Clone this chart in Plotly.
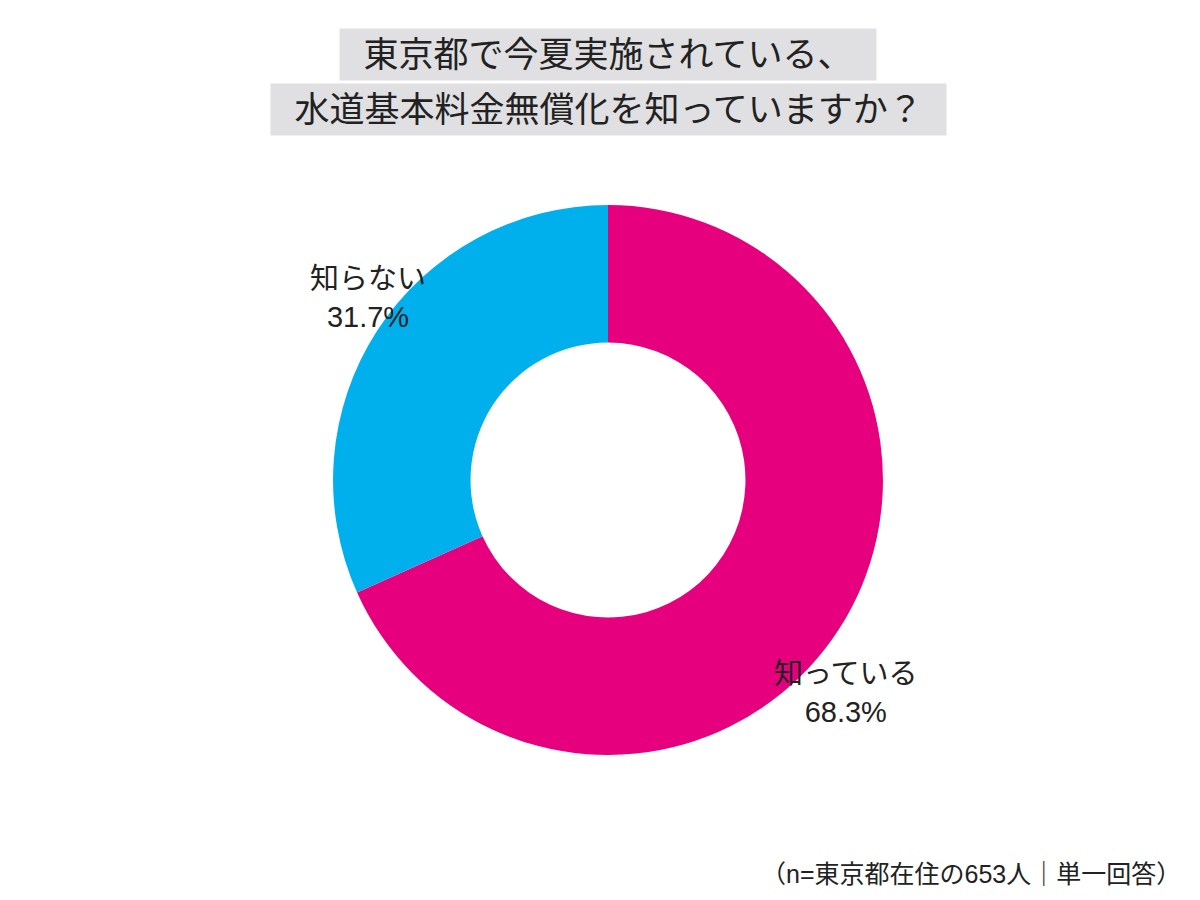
import plotly.graph_objects as go

labels = ["知っている", "知らない"]
values = [68.3, 31.7]
colors = ["#E6007E", "#00B0EC"]
title_lines = ["東京都で今夏実施されている、", "水道基本料金無償化を知っていますか？"]
note = "（n=東京都在住の653人｜単一回答）"

fig = go.Figure(go.Pie(
    labels=labels, values=values, hole=0.5, sort=False, direction="clockwise",
    rotation=0, marker=dict(colors=colors, line=dict(width=0)),
    textinfo="none", hoverinfo="label+percent", showlegend=False,
    domain=dict(x=[0.2708, 0.7292], y=[0.17, 0.781]),
))

font = "Liberation Sans, Noto Sans CJK JP"
# outside slice labels
label_pos = [(912, 685), (300, 290)]
for lab, val, (px, py) in zip(labels, values, label_pos):
    fig.add_annotation(x=px / 1200, y=1 - py / 900, xref="paper", yref="paper",
                       yanchor="middle", text=f"{lab}<br>{val}%", showarrow=False,
                       font=dict(family=font, size=29, color="#222"))

# title boxes
for line, py in zip(title_lines, [47, 101]):
    fig.add_annotation(x=0.5, y=1 - py / 900, xref="paper", yref="paper",
                       yanchor="middle", text=f"\u2002{line}\u2002", showarrow=False,
                       bgcolor="#E0E0E2", borderpad=6,
                       font=dict(family=font, size=35, color="#222"))

fig.add_annotation(x=1175 / 1200, y=1 - 866 / 900, xref="paper", yref="paper",
                   xanchor="right", yanchor="middle", text=note, showarrow=False,
                   font=dict(family=font, size=25, color="#222"))

fig.update_layout(width=1200, height=900, margin=dict(l=0, r=0, t=0, b=0),
                  paper_bgcolor="white", plot_bgcolor="white")
fig.write_html("out.html")
